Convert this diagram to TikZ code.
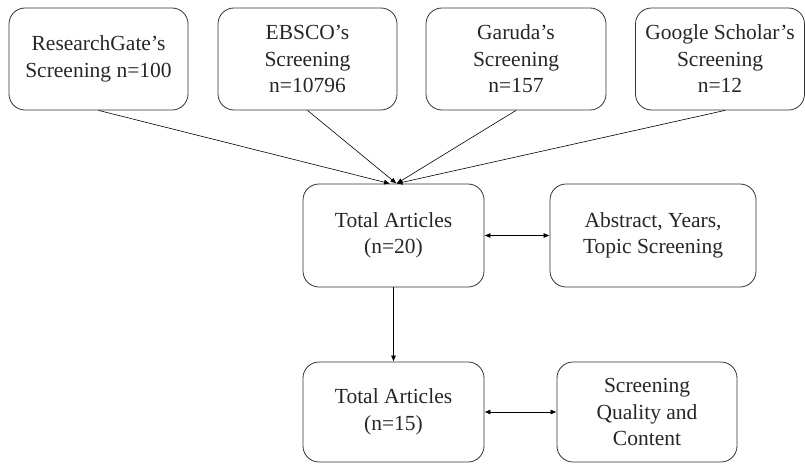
\documentclass[tikz,border=0pt]{standalone}
\usepackage{fontspec}
\setmainfont{Liberation Serif}
\usetikzlibrary{arrows.meta}
\begin{document}
\begin{tikzpicture}[x=1pt,y=-1pt,
  box/.style={draw=black!80, line width=0.8pt, rounded corners=16pt, align=center, inner sep=0pt,
    font=\fontsize{21.5}{26.5}\selectfont, text=black!85},
  conn/.style={line width=0.6pt, -{Latex[length=6pt,width=5pt]}},
  dconn/.style={line width=0.6pt, {Latex[length=6pt,width=5pt]}-{Latex[length=6pt,width=5pt]}}]
\useasboundingbox (0,0) rectangle (805,463);
\node[box, minimum width=179pt, minimum height=102pt] (rg) at (98.5,59) {ResearchGate's\\Screening n=100};
\node[box, minimum width=179pt, minimum height=102pt] (eb) at (307.5,59) {EBSCO's\\Screening\\n=10796};
\node[box, minimum width=180pt, minimum height=102pt] (ga) at (516,59) {Garuda's\\Screening\\n=157};
\node[box, minimum width=169pt, minimum height=102pt] (gs) at (720,59) {Google Scholar's\\Screening\\n=12};
\node[box, minimum width=181pt, minimum height=103pt] (t1) at (393.5,235.5) {Total Articles\\(n=20)};
\node[box, minimum width=206pt, minimum height=103pt] (ab) at (653,235.5) {Abstract, Years,\\Topic Screening};
\node[box, minimum width=181pt, minimum height=100pt] (t2) at (393.5,412) {Total Articles\\(n=15)};
\node[box, minimum width=180pt, minimum height=100pt] (sq) at (647,412) {Screening\\Quality and\\Content};
\coordinate (e1) at ([xshift=-3.5pt]t1.north);
\coordinate (e2) at ([xshift=3pt]t1.north);
\draw[conn] (rg.south) -- (e1);
\draw[conn] (eb.south) -- (e2);
\draw[conn] (ga.south) -- (e2);
\draw[conn] ([xshift=5pt]gs.south) -- (e2);
\draw[conn] (t1.south) -- (t2.north);
\draw[dconn] (t1.east) -- (ab.west);
\draw[dconn] (t2.east) -- (sq.west);
\end{tikzpicture}
\end{document}
